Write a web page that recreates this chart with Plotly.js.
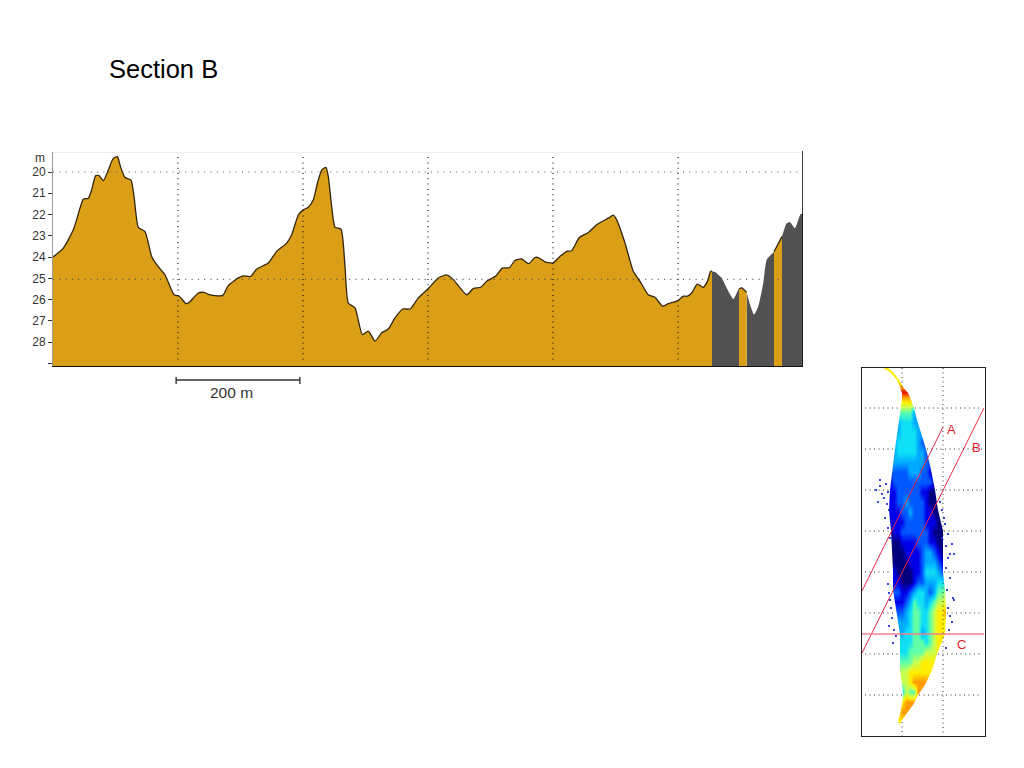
<!DOCTYPE html>
<html><head><meta charset="utf-8">
<script src="https://cdn.plot.ly/plotly-3.0.1.min.js"></script>
<style>html,body{margin:0;padding:0;background:#fff}#c{width:1024px;height:768px}</style>
</head><body><div id="c"></div>
<script>
// Section profile: distance (m) and depth (m)
const distance = [0,16.5,32.5,43.2,48.5,56.5,61.9,68.3,73.6,80.5,88.5,96.5,103,108,115,124.8,130,136.5,147.2,157.9,165.9,179.2,193.6,202,212.8,218,232.5,241.6,248.5,259,271.5,280.5,296.5,304.5,316.3,325.9,344.5,357.9,373.9,381.9,392.5,400.5,408.5,416.5,423,429.9,436.8,440.5,445.9,451.2,460.8,467.2,472.5,483.2,494.9,504.5,515.2,525.9,536.5,547.2,559.5,571.2,584.5,600.5,616.5,629.9,640.5,661.9,672.5,684.3,693.9,708.8,718.9,730.1,739.2,749.9,761,771.2,776.5,787.2,799.5,811.2,821.9,829.9,842.1,856.5,869.9,888.5,896.5,901.9,915.2,928.5,939.2,952.5,963.2,975.5,984.5,999,1008.5,1015,1021.9,1030.9,1040.5,1047,1052.3,1054.4,1059.2,1069.9,1077.9,1088.5,1096.5,1097.6,1101.9,1109.9,1115.2,1121.6,1128.5,1136.5,1141.9,1152.5,1153.6,1165.9,1166.4,1173.9,1179.2,1187.2,1196.2,1200];
const depth = [24,23.58,22.72,21.7,21.28,21.23,20.84,20.17,20.17,20.41,19.91,19.36,19.28,19.75,20.25,20.38,21.23,22.6,22.8,23.97,24.36,24.83,25.77,25.84,26.19,26.13,25.69,25.66,25.75,25.81,25.8,25.34,24.98,24.88,24.91,24.56,24.28,23.73,23.34,22.95,22.02,21.78,21.66,21.31,20.53,19.91,19.78,20.22,21.63,22.6,22.69,24.44,26.16,26.39,27.64,27.48,27.95,27.56,27.38,26.86,26.44,26.44,25.92,25.48,24.98,24.84,25.06,25.77,25.48,25.42,25.14,24.88,24.52,24.5,24.16,24.09,24.31,24.02,24.02,24.22,24.28,23.97,23.73,23.7,23.08,22.84,22.48,22.17,22.03,22.25,23.34,24.67,25.14,25.77,25.89,26.31,26.19,26.06,25.84,25.84,25.69,25.27,25.42,25.14,24.67,24.66,24.7,24.98,25.45,25.97,25.53,25.5,25.45,25.66,26.23,26.7,26.31,25.22,24.13,23.78,23.75,23.06,23.03,22.41,22.36,22.64,21.98,21.98];
const goldRanges = [[0,1054.4],[1097.6,1109.9],[1153.6,1166.4]];
const greyRanges = [[1054.4,1097.6],[1109.9,1153.6],[1166.4,1200]];
const depthTicks = [20,21,22,23,24,25,26,27,28,29];
const depthLabels = ['20','21','22','23','24','25','26','27','28',''];
const gridDepths = [20,25.05];
const gridDistances = [200,400,600,800,1000];
const scaleBar = [197,395];
const depthBottom = 29.12, depthTop = 19.06, distanceEnd = 1200;

// Location map: colour classes 0-9 by row, '.' = no data
const mapCols = [24,28,32,36,40,44,48,52,56,60,64,68,72,76,80,84,88,92,96];
const mapRows = [4,14,24,34,44,54,64,74,84,94,104,114,124,134,144,154,164,174,184,194,204,214,224,234,244,254,264,274,284,294,304,314,324,334,344,354];
const mapGrid = [
".7.................",
"...7...............",
"....99.............",
"....77.............",
"....5553...........",
"...34443...........",
"...344443..........",
"..34444432.........",
"..3444443321.......",
"..33333333221......",
"..22223332210......",
".1222222222210.....",
".1122222211000.....",
".1122322221000.....",
".1112232221100.....",
".11112222211100....",
".01122222221000....",
"..00111122211000...",
"..00011112332100...",
"..000011123332100..",
"..100001124443210..",
"...1000122333444...",
"...21123443235565..",
"...11235443456676..",
"...2234554456778...",
"....33455445677776.",
"....344553456777...",
"....444555456777...",
"....44555566677....",
"....55566777777....",
"....66777777778....",
"....6678888878.....",
"....4655887........",
"....7888...........",
"...7888............",
"...7..............."];
// Outline of the map's coloured area
const edgeY = [0,4,12,19,25,32,40,52,67,81,97,112,122,142,163,182,204,222,245,266,286,302,317,327,337,345,354,356,368];
const edgeL = [21,28,35,38,40,40,39,37,35,33,31,29,28,27,29,30,31,31,35,38,38,38,40,41,40,38,36,37.5,37.5];
const edgeR = [26,31,37,41,46,49,52,55,60,64,68,71,73,76,81,81,81,83,84,83,75,70,63,56,51,45,39,37.5,37.5];
const mapGridX = [40,81];
const mapGridXSpans = [[[0,25],[354,368]],[[0,175],[215,368]]];
const mapGridY = [40,81,122,163,204,245,286,327];
const lineAx = [81,0], lineAy = [59,223];
const lineBx = [122,0], lineBy = [40,285];
const lineCx = [0,122], lineCy = [266,266];
const speckX = [14,18,20,24,22,26,18,16,25,27,23,26,28,80,84,88,82,86,90,84,88,92,78,80,83,86,91,85,27,28,26,29,30,27,32,34,31,86,88,90,92,87,84];
const speckY = [122,118,126,116,130,124,112,134,136,142,150,160,170,170,178,186,150,190,176,200,210,186,134,142,156,166,230,222,225,232,216,240,250,258,262,268,275,240,248,254,232,262,280];

const rawZ = mapGrid.map(r => r.padEnd(mapCols.length,'.').split('').map(ch => ch === '.' ? null : +ch));
// carry each row's nearest value outwards: the outline masks decide the shape
const mapZ = rawZ.map(row => row.map((v,i) => {
  if(v !== null) return v;
  for(let k=1;k<row.length;k++){
    if(i-k>=0 && row[i-k]!==null) return row[i-k];
    if(i+k<row.length && row[i+k]!==null) return row[i+k];
  }
  return null;
}));

function pick(range){
  const xs=[],ys=[];
  distance.forEach((d,i)=>{ if(d>=range[0]-1e-6 && d<=range[1]+1e-6){xs.push(d);ys.push(depth[i]);} });
  return [xs,ys];
}
const smooth={shape:'spline',smoothing:0.55};
const traces=[];
function addFill(range,color){
  const [xs,ys]=pick(range);
  traces.push({x:xs,y:xs.map(()=>depthBottom),mode:'lines',line:{width:0},hoverinfo:'skip',xaxis:'x',yaxis:'y'});
  traces.push({x:xs,y:ys,mode:'lines',fill:'tonexty',fillcolor:color,line:Object.assign({width:0},smooth),hoverinfo:'skip',xaxis:'x',yaxis:'y'});
}
greyRanges.forEach(r=>addFill(r,'#525252'));
goldRanges.forEach(r=>addFill(r,'#DA9E17'));
goldRanges.forEach(r=>{
  const [xs,ys]=pick(r);
  traces.push({x:xs,y:ys,mode:'lines',line:Object.assign({color:'#33260c',width:1.3},smooth),hoverinfo:'skip',xaxis:'x',yaxis:'y'});
});
const jet=[[0,'#00007d'],[0.111,'#0000e8'],[0.222,'#0058ff'],[0.333,'#00aaff'],[0.444,'#10e0f4'],[0.556,'#60ffa8'],[0.667,'#c8ff50'],[0.778,'#ffee00'],[0.889,'#ff9a00'],[1,'#e81000']];
traces.push({type:'heatmap',x:mapCols,y:mapRows,z:mapZ,zmin:0,zmax:9,colorscale:jet,showscale:false,zsmooth:'best',hoverinfo:'skip',xaxis:'x2',yaxis:'y2'});
traces.push({x:[20].concat(edgeL,[20]),y:[0].concat(edgeY,[368]),mode:'lines',fill:'toself',fillcolor:'#fff',line:{width:0},hoverinfo:'skip',xaxis:'x2',yaxis:'y2'});
traces.push({x:[101].concat(edgeR,[101]),y:[0].concat(edgeY,[368]),mode:'lines',fill:'toself',fillcolor:'#fff',line:{width:0},hoverinfo:'skip',xaxis:'x2',yaxis:'y2'});
traces.push({type:'scatter',x:speckX,y:speckY,mode:'markers',marker:{size:1.8,color:'#2030d0',symbol:'square',line:{width:0}},hoverinfo:'skip',xaxis:'x2',yaxis:'y2'});
[[lineAx,lineAy,'#e02848',1],[lineBx,lineBy,'#e02848',1],[lineCx,lineCy,'#f08088',1.6]].forEach(l=>{
  traces.push({x:l[0],y:l[1],mode:'lines',line:{color:l[2],width:l[3]},hoverinfo:'skip',xaxis:'x2',yaxis:'y2'});
});

const shapes=[];
const dot={color:'#111',width:1.2,dash:'1px 4.3px'};
const dotH={color:'#555',width:1.2,dash:'1px 5.3px'};
gridDistances.forEach(d=>shapes.push({type:'line',layer:'above',xref:'x',yref:'y',x0:d,x1:d,y0:19.3,y1:28.95,line:dot}));
gridDepths.forEach(d=>shapes.push({type:'line',layer:'above',xref:'x',yref:'y',x0:0,x1:1192,y0:d,y1:d,line:dotH}));
shapes.push({type:'line',layer:'above',xref:'paper',yref:'y',x0:53/1024,x1:803/1024,y0:depthTop,y1:depthTop,line:{color:'#dcdcdc',width:1}});
shapes.push({type:'line',layer:'above',xref:'x',yref:'paper',x0:distanceEnd,x1:distanceEnd,y0:1-366/768,y1:1-151/768,line:{color:'#111',width:1.6}});
const pb=(px)=>1-px/768;
shapes.push({type:'line',xref:'x',yref:'paper',x0:scaleBar[0],x1:scaleBar[1],y0:pb(380),y1:pb(380),line:{color:'#333',width:1.4}});
scaleBar.forEach(s=>shapes.push({type:'line',xref:'x',yref:'paper',x0:s,x1:s,y0:pb(377),y1:pb(384),line:{color:'#333',width:1.4}}));
const mapDot={color:'#333',width:1,dash:'1px 3.5px'};
mapGridX.forEach((v,i)=>mapGridXSpans[i].forEach(s=>shapes.push({type:'line',layer:'above',xref:'x2',yref:'y2',x0:v,x1:v,y0:s[0],y1:s[1],line:mapDot})));
const interp=(arr,y)=>{for(let i=1;i<edgeY.length;i++){if(y<=edgeY[i]){const t=(y-edgeY[i-1])/(edgeY[i]-edgeY[i-1]);return arr[i-1]+t*(arr[i]-arr[i-1]);}}return arr[arr.length-1];};
mapGridY.forEach(v=>{
  shapes.push({type:'line',layer:'above',xref:'x2',yref:'y2',x0:3,x1:interp(edgeL,v)-1,y0:v,y1:v,line:mapDot});
  shapes.push({type:'line',layer:'above',xref:'x2',yref:'y2',x0:interp(edgeR,v)+1,x1:120,y0:v,y1:v,line:mapDot});
});

const layout={
  width:1024,height:768,margin:{l:0,r:0,t:0,b:0},paper_bgcolor:'#fff',plot_bgcolor:'#fff',showlegend:false,
  font:{family:'"Liberation Sans",Arial,sans-serif'},
  title:{text:'Section B',font:{size:25.5,color:'#000',family:'"Liberation Sans",Arial,sans-serif'},xref:'paper',yref:'paper',x:109/1024,xanchor:'left',y:1-69/768,yanchor:'middle'},
  xaxis:{domain:[53/1024,803/1024],range:[0,distanceEnd],showgrid:false,zeroline:false,showticklabels:false,ticks:'',showline:true,linecolor:'#111',linewidth:1.2},
  yaxis:{domain:[1-366/768,1-152/768],range:[depthBottom,depthTop],showgrid:false,zeroline:false,tickmode:'array',tickvals:depthTicks,ticktext:depthLabels,ticks:'outside',ticklen:4,tickcolor:'#333',tickwidth:1,tickfont:{size:12,color:'#333'},showline:true,linecolor:'#999',linewidth:1},
  xaxis2:{domain:[862/1024,984.5/1024],range:[0,122.5],anchor:'y2',showgrid:false,zeroline:false,showticklabels:false,ticks:'',showline:true,mirror:true,linecolor:'#222',linewidth:1},
  yaxis2:{domain:[1-736/768,1-368/768],range:[368,0],anchor:'x2',showgrid:false,zeroline:false,showticklabels:false,ticks:'',showline:true,mirror:true,linecolor:'#222',linewidth:1},
  shapes:shapes,
  annotations:[
    {text:'m',xref:'paper',yref:'paper',x:40/1024,y:pb(157.5),xanchor:'center',yanchor:'middle',showarrow:false,font:{size:12,color:'#333'}},
    {text:'200 m',xref:'paper',yref:'paper',x:231/1024,y:pb(392),xanchor:'center',yanchor:'middle',showarrow:false,font:{size:15.5,color:'#333'}},
    {text:'A',xref:'x2',yref:'y2',x:89,y:61,xanchor:'center',yanchor:'middle',showarrow:false,font:{size:13,color:'#e81828'}},
    {text:'B',xref:'x2',yref:'y2',x:114,y:79,xanchor:'center',yanchor:'middle',showarrow:false,font:{size:13,color:'#e81828'}},
    {text:'C',xref:'x2',yref:'y2',x:99,y:276,xanchor:'center',yanchor:'middle',showarrow:false,font:{size:13,color:'#e81828'}}
  ]
};
Plotly.newPlot('c',traces,layout,{displayModeBar:false,staticPlot:true});
</script></body></html>
